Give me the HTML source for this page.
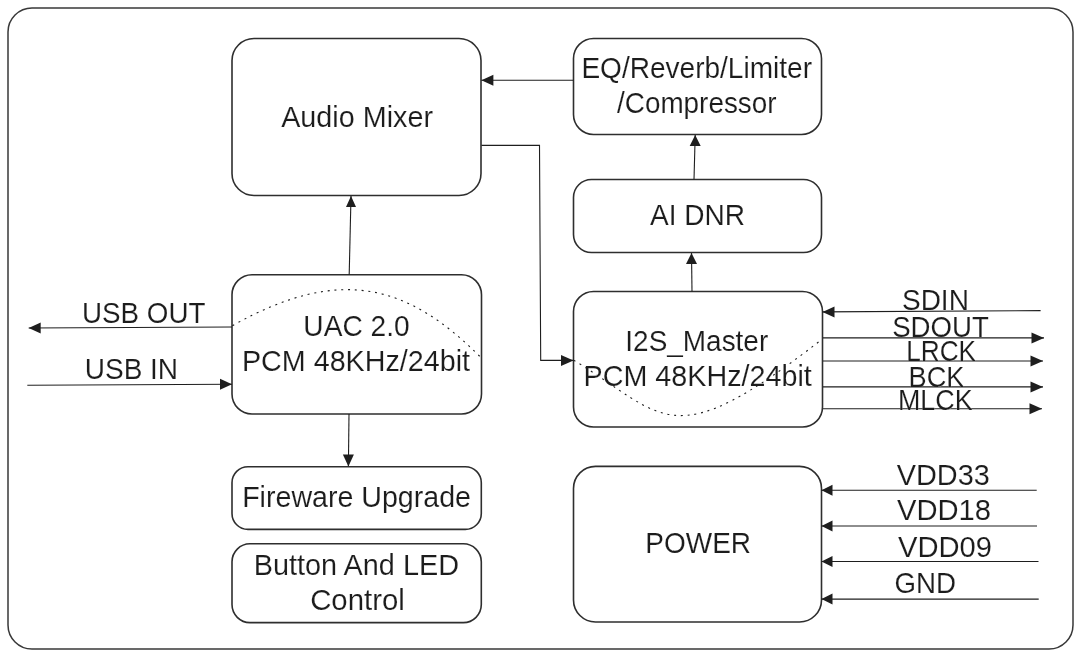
<!DOCTYPE html>
<html><head><meta charset="utf-8"><style>
html,body{margin:0;padding:0;background:#fff;width:1080px;height:657px;overflow:hidden}
svg{display:block;will-change:transform}
text{font-family:"Liberation Sans",sans-serif}
</style></head><body>
<svg width="1080" height="657" viewBox="0 0 1080 657">
<rect width="1080" height="657" fill="#fff"/>
<rect x="8" y="8" width="1065" height="641" rx="24" ry="24" fill="none" stroke="#383838" stroke-width="1.5"/>
<rect x="232" y="38.5" width="249" height="157.0" rx="22" ry="22" fill="none" stroke="#2e2e2e" stroke-width="1.6"/>
<rect x="573.5" y="38.5" width="248.0" height="96.0" rx="20" ry="20" fill="none" stroke="#2e2e2e" stroke-width="1.6"/>
<rect x="573.5" y="179.5" width="248.0" height="73.0" rx="18" ry="18" fill="none" stroke="#2e2e2e" stroke-width="1.6"/>
<rect x="232" y="274.8" width="249.5" height="139.2" rx="20" ry="20" fill="none" stroke="#2e2e2e" stroke-width="1.6"/>
<rect x="573.5" y="291.5" width="249.0" height="135.5" rx="20" ry="20" fill="none" stroke="#2e2e2e" stroke-width="1.6"/>
<rect x="232" y="466.7" width="249.3" height="62.69999999999999" rx="16" ry="16" fill="none" stroke="#2e2e2e" stroke-width="1.6"/>
<rect x="232" y="543.8" width="249.3" height="78.80000000000007" rx="18" ry="18" fill="none" stroke="#2e2e2e" stroke-width="1.6"/>
<rect x="573.5" y="466.4" width="248.0" height="155.60000000000002" rx="22" ry="22" fill="none" stroke="#2e2e2e" stroke-width="1.6"/>
<path d="M573.5,80.2 L481.4,80.2" fill="none" stroke="#1e1e1e" stroke-width="1.1"/>
<polygon points="481.40,80.20 493.40,74.70 493.40,85.70" fill="#1e1e1e"/>
<path d="M349.2,274.8 L351,196" fill="none" stroke="#1e1e1e" stroke-width="1.1"/>
<polygon points="351.00,196.00 346.00,207.00 356.00,207.00" fill="#1e1e1e"/>
<path d="M694,179.5 L695.2,135" fill="none" stroke="#1e1e1e" stroke-width="1.1"/>
<polygon points="695.20,135.00 689.70,146.00 700.70,146.00" fill="#1e1e1e"/>
<path d="M692,291.5 L691.5,253" fill="none" stroke="#1e1e1e" stroke-width="1.1"/>
<polygon points="691.50,253.00 686.00,264.00 697.00,264.00" fill="#1e1e1e"/>
<path d="M349,414 L348.4,466" fill="none" stroke="#1e1e1e" stroke-width="1.1"/>
<polygon points="348.40,466.40 342.90,454.40 353.90,454.40" fill="#1e1e1e"/>
<path d="M481.5,145.4 L539.5,145.4 L540.7,360.4 L573.5,360.4" fill="none" stroke="#1e1e1e" stroke-width="1.1"/>
<polygon points="573.50,360.40 561.00,354.90 561.00,365.90" fill="#1e1e1e"/>
<path d="M232,327.0 L28.7,328.0" fill="none" stroke="#1e1e1e" stroke-width="1.1"/>
<polygon points="28.70,328.00 40.70,322.50 40.70,333.50" fill="#1e1e1e"/>
<path d="M27.3,385.3 L232,384.2" fill="none" stroke="#1e1e1e" stroke-width="1.1"/>
<polygon points="232.00,384.20 220.00,378.70 220.00,389.70" fill="#1e1e1e"/>
<path d="M1040.6,310.6 L822.5,311.9" fill="none" stroke="#1e1e1e" stroke-width="1.1"/>
<polygon points="822.50,311.90 834.50,306.40 834.50,317.40" fill="#1e1e1e"/>
<path d="M823,337.9 L1044,337.9" fill="none" stroke="#1e1e1e" stroke-width="1.1"/>
<polygon points="1044.00,337.90 1031.50,332.40 1031.50,343.40" fill="#1e1e1e"/>
<path d="M823,361.0 L1043,361.0" fill="none" stroke="#1e1e1e" stroke-width="1.1"/>
<polygon points="1043.00,361.00 1030.50,355.50 1030.50,366.50" fill="#1e1e1e"/>
<path d="M823,386.9 L1043,386.9" fill="none" stroke="#1e1e1e" stroke-width="1.1"/>
<polygon points="1043.00,386.90 1030.50,381.40 1030.50,392.40" fill="#1e1e1e"/>
<path d="M823,408.8 L1042,408.8" fill="none" stroke="#1e1e1e" stroke-width="1.1"/>
<polygon points="1042.00,408.80 1029.50,403.30 1029.50,414.30" fill="#1e1e1e"/>
<path d="M1036.7,490.2 L821.5,490.2" fill="none" stroke="#1e1e1e" stroke-width="1.1"/>
<polygon points="821.50,490.20 832.50,484.70 832.50,495.70" fill="#1e1e1e"/>
<path d="M1037,526 L821.5,526" fill="none" stroke="#1e1e1e" stroke-width="1.1"/>
<polygon points="821.50,526.00 832.50,520.50 832.50,531.50" fill="#1e1e1e"/>
<path d="M1038.5,561.5 L821.5,561.5" fill="none" stroke="#1e1e1e" stroke-width="1.1"/>
<polygon points="821.50,561.50 832.50,556.00 832.50,567.00" fill="#1e1e1e"/>
<path d="M1038.7,599.1 L821.5,599.1" fill="none" stroke="#1e1e1e" stroke-width="1.1"/>
<polygon points="821.50,599.10 832.50,593.60 832.50,604.60" fill="#1e1e1e"/>
<path d="M232.4,325.7 C341.4,264.4 408.9,285.5 480.4,357" fill="none" stroke="#1e1e1e" stroke-width="1.1" stroke-dasharray="2 4.8"/>
<path d="M573.6,360.1 C666.6,416.9 669.9,457.5 821.6,339.6" fill="none" stroke="#1e1e1e" stroke-width="1.1" stroke-dasharray="2 4.8"/>
<g font-family="Liberation Sans, sans-serif" fill="#1c1c1c" stroke="#fff" stroke-width="0.12">
<text x="281.20" y="127" font-size="29" textLength="151.80" lengthAdjust="spacingAndGlyphs">Audio Mixer</text>
<text x="581.38" y="78" font-size="29" textLength="230.61" lengthAdjust="spacingAndGlyphs">EQ/Reverb/Limiter</text>
<text x="617.00" y="113" font-size="29" textLength="159.59" lengthAdjust="spacingAndGlyphs">/Compressor</text>
<text x="649.99" y="225" font-size="29" textLength="95.05" lengthAdjust="spacingAndGlyphs">AI DNR</text>
<text x="303.36" y="336" font-size="29" textLength="106.26" lengthAdjust="spacingAndGlyphs">UAC 2.0</text>
<text x="241.99" y="371" font-size="29" textLength="228.01" lengthAdjust="spacingAndGlyphs">PCM 48KHz/24bit</text>
<text x="625.36" y="351" font-size="29" textLength="142.85" lengthAdjust="spacingAndGlyphs">I2S_Master</text>
<text x="583.59" y="386" font-size="29" textLength="228.21" lengthAdjust="spacingAndGlyphs">PCM 48KHz/24bit</text>
<text x="242.17" y="507" font-size="29" textLength="228.85" lengthAdjust="spacingAndGlyphs">Fireware Upgrade</text>
<text x="253.78" y="575" font-size="29" textLength="205.24" lengthAdjust="spacingAndGlyphs">Button And LED</text>
<text x="310.17" y="610" font-size="29" textLength="94.66" lengthAdjust="spacingAndGlyphs">Control</text>
<text x="645.33" y="553" font-size="29" textLength="105.74" lengthAdjust="spacingAndGlyphs">POWER</text>
<text x="81.97" y="323" font-size="29" textLength="123.44" lengthAdjust="spacingAndGlyphs">USB OUT</text>
<text x="84.74" y="379" font-size="29" textLength="93.35" lengthAdjust="spacingAndGlyphs">USB IN</text>
<text x="901.95" y="310" font-size="29" textLength="66.95" lengthAdjust="spacingAndGlyphs">SDIN</text>
<text x="892.17" y="337" font-size="29" textLength="96.64" lengthAdjust="spacingAndGlyphs">SDOUT</text>
<text x="906.15" y="361" font-size="29" textLength="69.88" lengthAdjust="spacingAndGlyphs">LRCK</text>
<text x="908.51" y="387" font-size="29" textLength="55.94" lengthAdjust="spacingAndGlyphs">BCK</text>
<text x="897.94" y="410" font-size="29" textLength="74.69" lengthAdjust="spacingAndGlyphs">MLCK</text>
<text x="896.79" y="485" font-size="29" textLength="93.01" lengthAdjust="spacingAndGlyphs">VDD33</text>
<text x="897.00" y="520" font-size="29" textLength="94.02" lengthAdjust="spacingAndGlyphs">VDD18</text>
<text x="898.00" y="557" font-size="29" textLength="94.02" lengthAdjust="spacingAndGlyphs">VDD09</text>
<text x="894.56" y="593" font-size="29" textLength="61.49" lengthAdjust="spacingAndGlyphs">GND</text>
</g>
</svg>
</body></html>
